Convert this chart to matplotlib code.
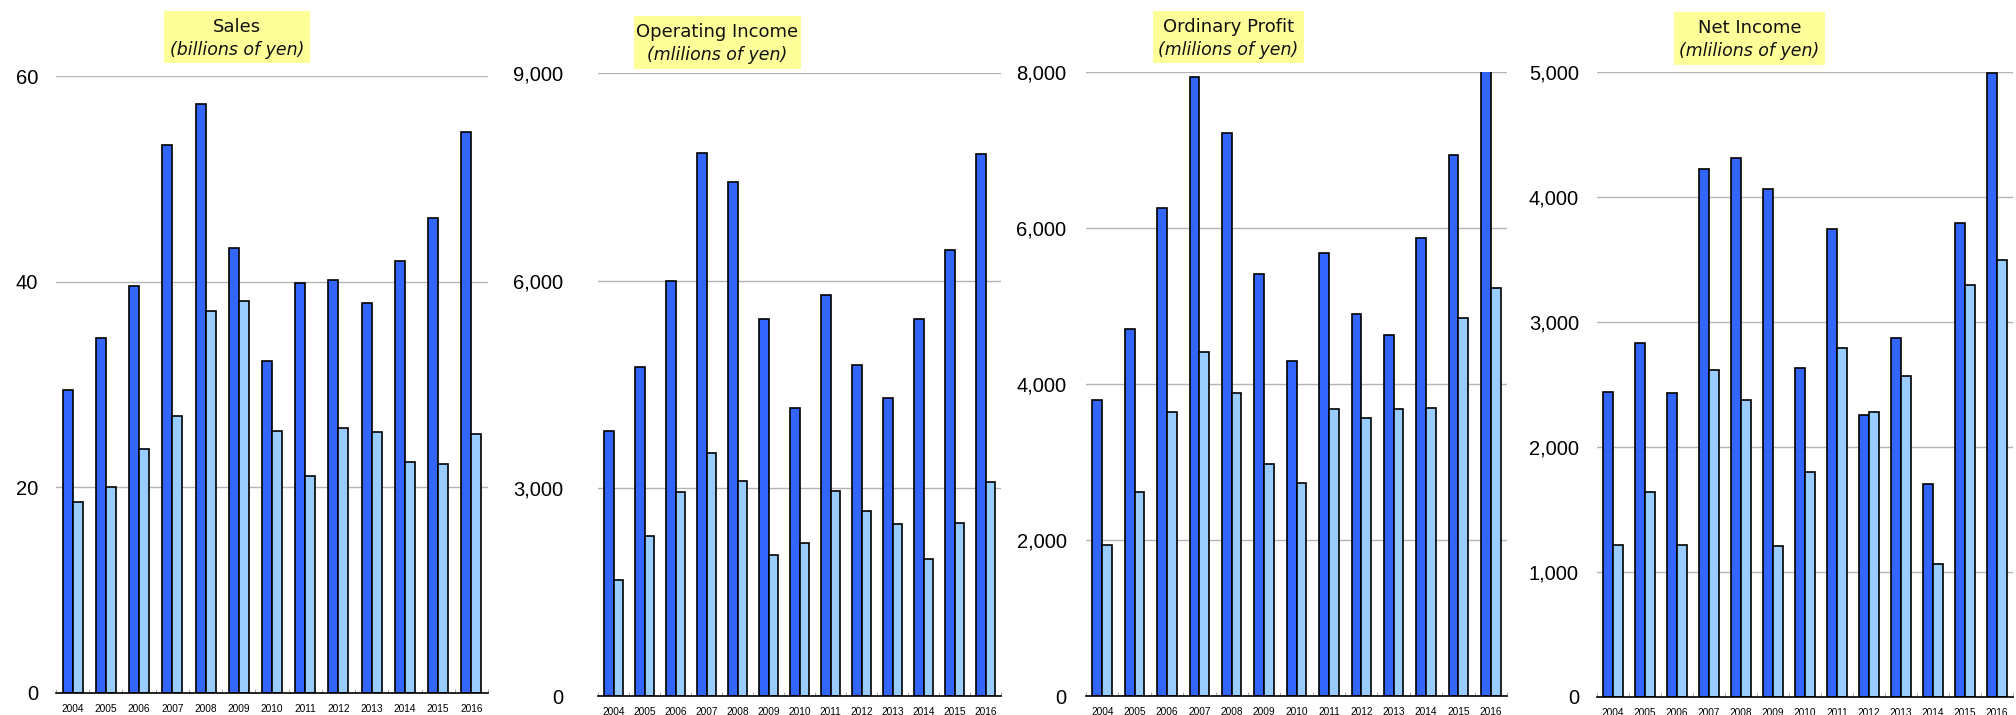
import numpy as np
import matplotlib
matplotlib.use('Agg')
import matplotlib.pyplot as plt
from matplotlib.patches import Rectangle
from matplotlib.ticker import FuncFormatter

years = ['2004', '2005', '2006', '2007', '2008', '2009', '2010',
         '2011', '2012', '2013', '2014', '2015', '2016']

# dark bars / light bars for each panel
sales_a = [29.5, 34.5, 39.6, 53.3, 57.3, 43.3, 32.3, 39.9, 40.2, 37.9, 42.0, 46.2, 54.6]
sales_b = [18.6, 20.0, 23.7, 26.9, 37.1, 38.1, 25.5, 21.1, 25.8, 25.4, 22.5, 22.3, 25.2]

opinc_a = [3825, 4760, 5990, 7840, 7430, 5440, 4160, 5800, 4785, 4300, 5440, 6450, 7830]
opinc_b = [1675, 2310, 2950, 3510, 3110, 2035, 2205, 2965, 2670, 2480, 1980, 2500, 3090]

ordp_a = [3800, 4700, 6260, 7940, 7220, 5410, 4300, 5680, 4900, 4630, 5870, 6940, 8050]
ordp_b = [1940, 2610, 3640, 4410, 3880, 2975, 2735, 3680, 3565, 3685, 3690, 4840, 5225]

net_a = [2440, 2830, 2430, 4225, 4310, 4065, 2635, 3745, 2260, 2875, 1705, 3790, 4990]
net_b = [1220, 1640, 1220, 2620, 2375, 1210, 1800, 2795, 2280, 2570, 1065, 3295, 3500]

titles = ['Sales', 'Operating Income', 'Ordinary Profit', 'Net Income']
units = ['(billions of yen)', '(mlilions of yen)', '(mlilions of yen)', '(mlilions of yen)']

W, H = 2016, 715
fig = plt.figure(figsize=(W / 100, H / 100), dpi=100)

# pixel boxes: left, right, top, bottom
boxes = [(56, 488, 76, 693), (598, 1001, 73, 696), (1086, 1507, 72, 696), (1597, 2013, 72, 697)]
# yellow title boxes: left, right, top, bottom
tboxes = [(164, 310, 11, 63), (634, 801, 16, 69), (1153, 1304, 11, 63), (1674, 1825, 12, 65)]
ypads = [13, 25, 14, 13]
ylims = [60, 9000, 8000, 5000]
ysteps = [20, 3000, 2000, 1000]
data = [(sales_a, sales_b), (opinc_a, opinc_b), (ordp_a, ordp_b), (net_a, net_b)]

x = np.arange(len(years))
w = 0.3

for i in range(4):
    l, r, t, b = boxes[i]
    ax = fig.add_axes([l / W, (H - b) / H, (r - l) / W, (b - t) / H])
    a, bb = data[i]
    ax.bar(x - w / 2, a, w, color='#3366ff', edgecolor='black', linewidth=1.2, zorder=3)
    ax.bar(x + w / 2, bb, w, color='#99ccff', edgecolor='black', linewidth=1.2, zorder=3)
    ax.set_xlim(-0.5, len(years) - 0.5)
    ax.set_ylim(0, ylims[i])
    ax.set_yticks(np.arange(0, ylims[i] + 1, ysteps[i]))
    ax.yaxis.set_major_formatter(FuncFormatter(lambda v, p: f'{int(v):,}'))
    ax.grid(axis='y', color='#b4b4b4', linewidth=1.0, zorder=0)
    for s in ['top', 'right', 'left']:
        ax.spines[s].set_visible(False)
    ax.spines['bottom'].set_color('black')
    ax.spines['bottom'].set_linewidth(1.2)
    ax.spines['bottom'].set_zorder(4)
    ax.set_xticks(x)
    ax.set_xticklabels(years, fontsize=7.3, family='Liberation Sans')
    ax.set_xticks(np.arange(-0.5, len(years), 1), minor=True)
    ax.tick_params(axis='x', which='major', length=0, pad=8)
    ax.tick_params(axis='x', which='minor', length=3, direction='in', color='#999999')
    ax.tick_params(axis='y', length=0, pad=ypads[i], labelsize=14.5)
    for lab in ax.get_yticklabels():
        lab.set_family('Liberation Sans')
    ax.set_facecolor('none')

    # title box
    tl, tr, tt, tb = tboxes[i]
    fig.patches.append(Rectangle((tl / W, 1 - tb / H), (tr - tl) / W, (tb - tt) / H,
                                 transform=fig.transFigure, facecolor='#ffff99',
                                 edgecolor='none', zorder=0))
    cx = (tl + tr) / 2 / W
    fig.text(cx, 1 - (tt + 16) / H, titles[i], ha='center', va='center',
             fontsize=13, family='DejaVu Sans', color='#111111')
    fig.text(cx, 1 - (tt + 39) / H, units[i], ha='center', va='center',
             fontsize=12.5, family='DejaVu Sans', style='italic', color='#111111')

fig.savefig('out.png', dpi=100)
